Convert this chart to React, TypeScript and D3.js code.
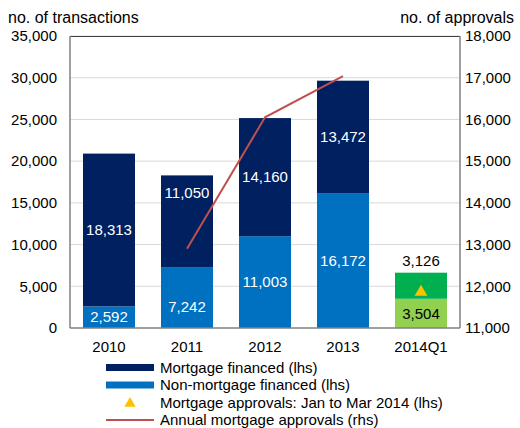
import React from "react";
import * as d3 from "d3";

const categories = ["2010", "2011", "2012", "2013", "2014Q1"];
const nonMortgage = [2592, 7242, 11003, 16172, null];
const mortgage = [18313, 11050, 14160, 13472, null];
const q1Bottom = 3504;
const q1Top = 3126;
const q1Approvals = 4300;
const lineCats = ["2011", "2012", "2013"];
const annualApprovals = [12900, 16050, 17040];
const leftTicks = [0, 5000, 10000, 15000, 20000, 25000, 30000, 35000];
const rightTicks = [11000, 12000, 13000, 14000, 15000, 16000, 17000, 18000];

const NAVY = "#002060";
const BLUE = "#0070C0";
const LGREEN = "#92D050";
const GREEN = "#00B050";
const RED = "#C0504D";
const YEL = "#FFC000";
const FONT = "'Liberation Sans', Arial, sans-serif";
const FS = 15;

export default function App() {
  const W = 520, H = 428;
  const L = 70, R = 460, T = 36, B = 328;
  const x = d3.scaleBand<string>().domain(categories).range([L, R]).paddingInner(1 / 3).paddingOuter(1 / 6);
  const yL = d3.scaleLinear().domain([0, 35000]).range([B, T]);
  const yR = d3.scaleLinear().domain([11000, 18000]).range([B, T]);
  const fmt = d3.format(",");
  const bw = x.bandwidth();
  const line = d3.line<number>().x((_, i) => (x(lineCats[i]) as number) + bw / 2).y((d) => yR(d));
  const tri = d3.symbol().type(d3.symbolTriangle).size(70)();

  const labelY = (cat: string, lo: number, hi: number, which: string) => {
    if (cat === "2011" && which === "top") return yL(16180);
    if (cat === "2011" && which === "bottom") return yL(2517);
    return yL((lo + hi) / 2);
  };

  const legend = [
    { type: "rect", color: NAVY, text: "Mortgage financed (lhs)" },
    { type: "rect", color: BLUE, text: "Non-mortgage financed (lhs)" },
    { type: "tri", color: YEL, text: "Mortgage approvals: Jan to Mar 2014 (lhs)" },
    { type: "line", color: RED, text: "Annual mortgage approvals (rhs)" },
  ];

  return (
    <svg width={W} height={H} style={{ position: "absolute", left: 0, top: 0, fontFamily: FONT }}>
      <rect width={W} height={H} fill="#fff" />
      {leftTicks.slice(1).map((t) => (
        <line key={t} x1={L} x2={R} y1={yL(t)} y2={yL(t)} stroke="#D9D9D9" strokeWidth={1} />
      ))}
      {categories.map((c, i) => {
        const x0 = x(c) as number;
        if (nonMortgage[i] == null) {
          return (
            <g key={c}>
              <rect x={x0} y={yL(q1Bottom)} width={bw} height={yL(0) - yL(q1Bottom)} fill={LGREEN} />
              <rect x={x0} y={yL(q1Bottom + q1Top)} width={bw} height={yL(q1Bottom) - yL(q1Bottom + q1Top)} fill={GREEN} />
              <path d={tri as string} transform={`translate(${x0 + bw / 2},${yL(q1Approvals)})`} fill={YEL} />
              <text x={x0 + bw / 2} y={yL(q1Bottom / 2)} dy="0.35em" textAnchor="middle" fontSize={FS} fill="#000">{fmt(q1Bottom)}</text>
              <text x={x0 + bw / 2} y={yL(q1Bottom + q1Top) - 7} textAnchor="middle" fontSize={FS} fill="#000">{fmt(q1Top)}</text>
            </g>
          );
        }
        const a = nonMortgage[i] as number;
        const b = mortgage[i] as number;
        return (
          <g key={c}>
            <rect x={x0} y={yL(a)} width={bw} height={yL(0) - yL(a)} fill={BLUE} />
            <rect x={x0} y={yL(a + b)} width={bw} height={yL(a) - yL(a + b)} fill={NAVY} />
            <text x={x0 + bw / 2} y={labelY(c, 0, a, "bottom")} dy="0.35em" textAnchor="middle" fontSize={FS} fill="#fff">{fmt(a)}</text>
            <text x={x0 + bw / 2} y={labelY(c, a, a + b, "top")} dy="0.35em" textAnchor="middle" fontSize={FS} fill="#fff">{fmt(b)}</text>
          </g>
        );
      })}
      <path d={line(annualApprovals) as string} fill="none" stroke={RED} strokeWidth={2} />
      <line x1={L} x2={R} y1={T + 0.5} y2={T + 0.5} stroke="#404040" strokeWidth={1} />
      <line x1={L} x2={L} y1={T} y2={B} stroke="#808080" strokeWidth={1.5} />
      <line x1={R} x2={R} y1={T} y2={B} stroke="#808080" strokeWidth={1.5} />
      <line x1={L} x2={R} y1={B} y2={B} stroke="#808080" strokeWidth={1.5} />
      {leftTicks.map((t) => (
        <text key={t} x={57} y={yL(t)} dy="0.35em" textAnchor="end" fontSize={FS} fill="#000">{fmt(t)}</text>
      ))}
      {rightTicks.map((t) => (
        <text key={t} x={465} y={yR(t)} dy="0.35em" textAnchor="start" fontSize={FS} fill="#000">{fmt(t)}</text>
      ))}
      {categories.map((c) => (
        <text key={c} x={(x(c) as number) + bw / 2} y={352} textAnchor="middle" fontSize={FS} fill="#000">{c}</text>
      ))}
      <text x={8} y={23} fontSize={16} fill="#000">no. of transactions</text>
      <text x={514} y={23} textAnchor="end" fontSize={16} fill="#000">no. of approvals</text>
      {legend.map((d, i) => {
        const cy = 367.5 + i * 17.5;
        return (
          <g key={d.text}>
            {d.type === "rect" && <rect x={106} y={cy - 3.5} width={48} height={7} fill={d.color} />}
            {d.type === "tri" && <path d={d3.symbol().type(d3.symbolTriangle).size(55)() as string} transform={`translate(130,${cy + 1})`} fill={d.color} />}
            {d.type === "line" && <line x1={106} x2={154} y1={cy} y2={cy} stroke={d.color} strokeWidth={2} />}
            <text x={160} y={cy} dy="0.35em" fontSize={FS} fill="#000">{d.text}</text>
          </g>
        );
      })}
    </svg>
  );
}
